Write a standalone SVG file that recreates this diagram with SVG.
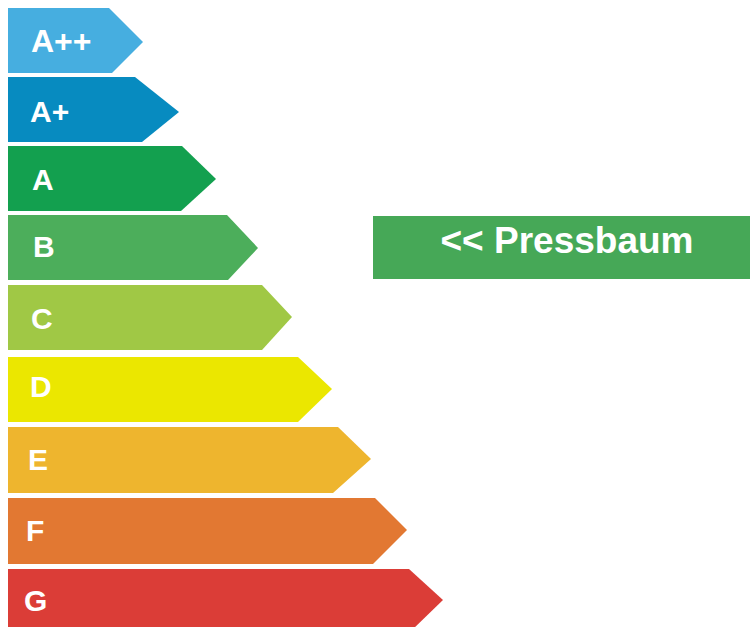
<svg xmlns="http://www.w3.org/2000/svg" width="750" height="627" viewBox="0 0 750 627">
<style>
.lbl{font-family:"Liberation Sans",Arial,sans-serif;font-weight:bold;font-size:30px;fill:#ffffff}
.big{font-family:"Liberation Sans",Arial,sans-serif;font-weight:bold;font-size:37px;fill:#ffffff}
</style>
<rect width="750" height="627" fill="#ffffff"/>
<g id="appp"><polygon points="8,8 109,8 143,42 112,73 8,73" fill="#46aee0"/><text class="lbl" x="31" y="52" style="font-size:32px">A++</text></g>
<g id="ap"><polygon points="8,77 135,77 179,112 142,142 8,142" fill="#078bc0"/><text class="lbl" x="30" y="122">A+</text></g>
<g id="a"><polygon points="8,146 182,146 216,179 181,211 8,211" fill="#13a04f"/><text class="lbl" x="32" y="190">A</text></g>
<g id="b"><polygon points="8,215 227,215 258,248 228,280 8,280" fill="#4cae5b"/><text class="lbl" x="33" y="257">B</text></g>
<g id="c"><polygon points="8,285 262,285 292,317 262,350 8,350" fill="#a0c845"/><text class="lbl" x="31" y="329">C</text></g>
<g id="d"><polygon points="8,357 298,357 332,389 298,422 8,422" fill="#ebe700"/><text class="lbl" x="30" y="397">D</text></g>
<g id="e"><polygon points="8,427 338,427 371,459 333,493 8,493" fill="#eeb52e"/><text class="lbl" x="28" y="470">E</text></g>
<g id="f"><polygon points="8,498 375,498 407,530 373,564 8,564" fill="#e27832"/><text class="lbl" x="26" y="541">F</text></g>
<g id="g"><polygon points="8,569 409,569 443,600 411,631 8,631" fill="#db3d37"/><text class="lbl" x="24" y="611">G</text></g>
<g id="pressbaum"><rect x="373" y="216" width="377" height="63" fill="#46a857"/><text class="big" x="567" y="253" text-anchor="middle">&lt;&lt; Pressbaum</text></g>
<g id="connectors"/>
</svg>
